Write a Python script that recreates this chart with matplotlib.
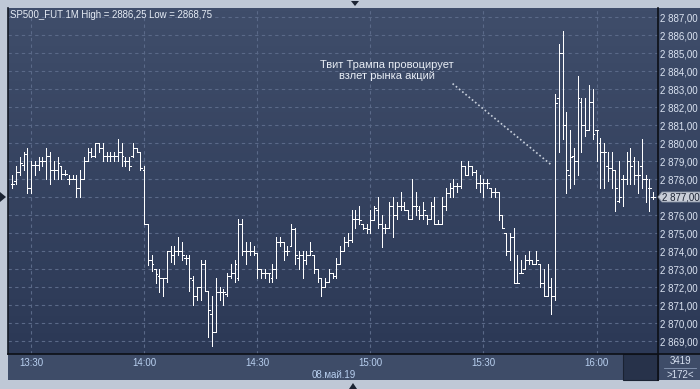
import matplotlib.pyplot as plt
import numpy as np
from matplotlib.patches import Rectangle, Polygon
from matplotlib.colors import LinearSegmentedColormap
from matplotlib.lines import Line2D

plt.rcParams['font.family'] = ['Liberation Sans', 'DejaVu Sans']

# one-minute bars, 13:25 .. 16:15
bar_open = [
    2877.7, 2877.9, 2878.4, 2878.8, 2879.4, 2877.5, 2878.8, 2878.8, 2879.0, 2879.0,
    2879.3, 2878.5, 2878.5, 2878.7, 2878.3, 2878.0, 2878.0, 2878.0, 2877.5, 2878.0,
    2879.0, 2879.5, 2879.3, 2880.0, 2879.7, 2879.3, 2879.3, 2879.3, 2879.3, 2879.5,
    2879.0, 2879.0, 2879.3, 2879.7, 2879.5, 2878.5, 2875.5, 2873.5, 2873.0, 2872.6,
    2872.5, 2872.5, 2874.0, 2873.8, 2874.0, 2874.0, 2873.6, 2873.6, 2872.4, 2871.5,
    2872.0, 2873.3, 2871.8, 2870.5, 2869.5, 2871.7, 2871.7, 2871.6, 2872.6, 2872.8,
    2872.5, 2875.5, 2874.0, 2874.0, 2874.0, 2873.9, 2873.0, 2872.8, 2872.8, 2872.5,
    2873.0, 2874.5, 2874.5, 2874.0, 2874.3, 2875.2, 2873.6, 2873.8, 2873.5, 2873.8,
    2873.8, 2873.0, 2872.5, 2872.0, 2872.3, 2872.8, 2872.6, 2873.3, 2874.0, 2874.5,
    2874.6, 2875.8, 2875.8, 2875.5, 2875.3, 2875.2, 2875.7, 2876.3, 2875.5, 2875.3,
    2875.3, 2876.5, 2876.0, 2876.5, 2876.5, 2876.3, 2875.8, 2876.5, 2876.3, 2876.0,
    2876.0, 2875.8, 2876.5, 2875.5, 2875.5, 2876.5, 2877.2, 2877.5, 2877.6, 2877.6,
    2878.7, 2878.2, 2878.7, 2878.4, 2877.8, 2877.8, 2877.8, 2877.5, 2877.3, 2877.3,
    2876.0, 2875.0, 2874.0, 2874.8, 2872.2, 2872.8, 2873.0, 2873.5, 2873.5, 2873.3,
    2873.3, 2872.2, 2871.5, 2872.0, 2871.5, 2882.5, 2885.0, 2881.0, 2878.2, 2879.3,
    2879.0, 2882.3, 2881.0, 2880.7, 2882.3, 2880.7, 2880.0, 2879.5, 2878.7, 2878.6,
    2878.5, 2876.8, 2878.0, 2878.0, 2879.0, 2879.0, 2878.2, 2878.7, 2878.0, 2877.5,
    2877.0,
]
bar_high = [
    2878.2, 2878.7, 2879.2, 2879.5, 2879.7, 2879.0, 2879.0, 2879.2, 2879.2, 2879.7,
    2879.5, 2879.0, 2879.2, 2878.7, 2878.5, 2878.2, 2878.2, 2878.2, 2878.5, 2879.2,
    2879.7, 2879.7, 2880.0, 2880.0, 2880.0, 2879.5, 2879.5, 2879.5, 2880.2, 2880.0,
    2879.2, 2879.2, 2880.0, 2879.7, 2879.5, 2878.7, 2875.5, 2873.8, 2873.0, 2873.0,
    2872.5, 2874.0, 2874.3, 2874.3, 2874.8, 2874.5, 2873.8, 2873.8, 2872.6, 2872.0,
    2873.5, 2873.5, 2871.8, 2871.5, 2872.5, 2872.0, 2871.9, 2872.8, 2873.3, 2873.5,
    2875.8, 2875.8, 2874.5, 2874.5, 2874.3, 2873.9, 2873.0, 2873.0, 2872.8, 2873.3,
    2874.8, 2874.8, 2874.5, 2874.3, 2875.5, 2875.3, 2874.0, 2874.0, 2874.0, 2874.5,
    2873.8, 2873.0, 2872.5, 2872.5, 2873.0, 2872.8, 2873.6, 2874.3, 2874.8, 2875.0,
    2876.3, 2876.3, 2876.5, 2875.5, 2875.5, 2876.3, 2876.5, 2877.0, 2876.0, 2875.5,
    2876.7, 2877.0, 2876.7, 2877.3, 2876.7, 2876.3, 2878.0, 2877.3, 2876.5, 2876.7,
    2876.0, 2876.7, 2877.0, 2875.7, 2877.0, 2877.5, 2877.8, 2878.0, 2877.8, 2879.0,
    2878.7, 2879.0, 2878.7, 2878.5, 2878.2, 2878.0, 2878.0, 2877.5, 2877.5, 2877.3,
    2876.0, 2875.0, 2875.0, 2875.3, 2873.8, 2873.5, 2873.8, 2874.0, 2873.5, 2874.0,
    2873.3, 2873.0, 2873.3, 2872.5, 2882.7, 2885.5, 2886.25, 2881.7, 2880.7, 2879.7,
    2883.7, 2882.5, 2882.5, 2883.2, 2883.0, 2880.7, 2880.3, 2880.0, 2879.5, 2879.5,
    2878.5, 2879.0, 2878.2, 2879.5, 2879.7, 2879.2, 2879.0, 2880.2, 2878.2, 2878.0,
    2877.3,
]
bar_low = [
    2877.5, 2877.7, 2878.2, 2878.5, 2877.2, 2877.2, 2878.2, 2878.5, 2878.7, 2878.0,
    2877.7, 2878.0, 2878.0, 2878.0, 2878.2, 2877.7, 2878.0, 2877.0, 2877.0, 2878.0,
    2879.0, 2879.2, 2879.2, 2879.5, 2879.0, 2879.0, 2879.0, 2879.0, 2879.0, 2878.7,
    2878.7, 2878.5, 2879.2, 2879.5, 2878.5, 2875.5, 2873.2, 2872.9, 2872.2, 2871.7,
    2871.5, 2872.3, 2873.4, 2873.3, 2873.8, 2873.5, 2873.3, 2871.8, 2871.0, 2871.3,
    2871.3, 2871.8, 2869.2, 2868.75, 2869.5, 2871.3, 2871.0, 2871.5, 2872.5, 2872.3,
    2872.4, 2873.8, 2873.3, 2873.8, 2873.8, 2872.5, 2872.5, 2872.5, 2872.3, 2872.3,
    2872.5, 2874.3, 2873.5, 2873.8, 2874.3, 2873.3, 2873.0, 2872.5, 2873.3, 2873.8,
    2872.8, 2872.3, 2871.5, 2872.0, 2872.3, 2872.5, 2872.5, 2873.3, 2874.0, 2874.3,
    2874.5, 2875.3, 2875.5, 2875.2, 2875.0, 2875.0, 2875.7, 2875.3, 2874.2, 2875.0,
    2875.3, 2874.8, 2875.8, 2876.3, 2876.3, 2875.8, 2875.8, 2876.0, 2875.8, 2875.8,
    2875.5, 2875.8, 2875.5, 2875.5, 2875.5, 2876.3, 2877.0, 2877.0, 2877.3, 2877.5,
    2878.2, 2878.2, 2878.2, 2877.5, 2877.3, 2877.0, 2877.5, 2877.0, 2877.0, 2875.7,
    2875.3, 2873.8, 2873.5, 2872.2, 2872.2, 2872.8, 2873.0, 2873.3, 2873.3, 2873.3,
    2872.0, 2871.5, 2871.5, 2870.5, 2871.3, 2879.5, 2880.2, 2877.2, 2877.5, 2877.7,
    2878.2, 2879.5, 2880.4, 2880.7, 2880.2, 2879.0, 2877.5, 2877.5, 2877.9, 2877.5,
    2876.2, 2876.7, 2876.5, 2877.7, 2877.7, 2877.7, 2877.2, 2877.5, 2876.7, 2876.2,
    2876.9,
]
bar_close = [
    2877.7, 2878.4, 2878.9, 2879.4, 2877.5, 2878.8, 2878.8, 2879.0, 2879.0, 2879.3,
    2878.5, 2878.5, 2878.9, 2878.3, 2878.3, 2878.0, 2878.0, 2877.5, 2878.0, 2879.0,
    2879.5, 2879.3, 2880.0, 2879.7, 2879.3, 2879.3, 2879.3, 2879.3, 2879.5, 2879.3,
    2879.0, 2878.7, 2879.7, 2879.5, 2878.6, 2875.5, 2873.5, 2873.3, 2872.7, 2872.5,
    2872.5, 2874.0, 2873.8, 2874.0, 2874.0, 2873.8, 2873.6, 2872.5, 2871.5, 2872.0,
    2873.3, 2871.8, 2870.7, 2869.5, 2871.7, 2871.7, 2871.7, 2872.6, 2872.8, 2873.3,
    2875.5, 2874.0, 2874.0, 2874.0, 2873.9, 2873.0, 2872.8, 2872.8, 2872.8, 2873.0,
    2874.5, 2874.5, 2874.0, 2874.0, 2875.2, 2873.8, 2873.8, 2873.5, 2873.8, 2874.0,
    2873.0, 2872.5, 2872.0, 2872.3, 2872.8, 2872.6, 2873.3, 2874.0, 2874.5, 2874.6,
    2875.8, 2875.8, 2875.7, 2875.3, 2875.2, 2875.7, 2876.4, 2875.5, 2875.3, 2875.3,
    2876.5, 2876.0, 2876.5, 2876.5, 2876.3, 2875.8, 2876.5, 2876.5, 2876.0, 2876.3,
    2875.8, 2876.5, 2875.5, 2875.5, 2876.5, 2877.2, 2877.5, 2877.6, 2877.6, 2878.7,
    2878.2, 2878.7, 2878.4, 2877.8, 2877.8, 2877.8, 2877.8, 2877.3, 2877.3, 2876.0,
    2875.3, 2874.0, 2874.8, 2872.2, 2872.2, 2872.8, 2873.5, 2873.5, 2873.3, 2873.5,
    2872.2, 2871.5, 2872.0, 2871.5, 2882.2, 2885.0, 2881.0, 2878.5, 2879.2, 2879.0,
    2882.5, 2881.0, 2880.7, 2882.3, 2880.5, 2880.7, 2879.5, 2879.5, 2878.6, 2878.5,
    2877.5, 2877.0, 2878.0, 2879.0, 2878.7, 2878.2, 2878.2, 2878.0, 2878.0, 2877.5,
    2877.0,
]

time_ticks = [5, 35, 65, 95, 125, 155]
time_labels = ['13:30', '14:00', '14:30', '15:00', '15:30', '16:00']
price_ticks = list(range(2869, 2888))
last_price = 2877.0

W, H = 700, 389
fig = plt.figure(figsize=(7, 3.89), dpi=100)
fig.patch.set_facecolor('#bfc8d6')


def fx(px):
    return px / W


def fy(py):
    return 1 - py / H


def price_str(p):
    p = int(round(p))
    return f"{p // 1000} {p % 1000:03d},00"


# gradient background for plot + price scale
bg = fig.add_axes([fx(8), fy(354), 692 / W, 346 / H])
bg.set_zorder(-1)
cmap = LinearSegmentedColormap.from_list('bg', ['#2c3956', '#3f4d6a'])
bg.imshow(np.linspace(0, 1, 100).reshape(-1, 1)[::-1], aspect='auto', cmap=cmap,
          extent=[0, 1, 0, 1])
bg.axis('off')

# bottom time strip
fig.patches.append(Rectangle((fx(8), fy(380)), 692 / W, 26 / H, transform=fig.transFigure,
                             facecolor='#3e4c68', edgecolor='none', zorder=-2))
fig.patches.append(Rectangle((fx(623), fy(380)), 35 / W, 26 / H, transform=fig.transFigure,
                             facecolor='#27324a', edgecolor='#1a2232', lw=0.8, zorder=-1))

ax = fig.add_axes([fx(8), fy(354), 650 / W, 346 / H])
ax.set_facecolor('none')
n = len(bar_close)
x = np.arange(n)
ax.set_xlim(-1.15, 171.3)
ax.set_ylim(2868.28, 2887.5)

for p in price_ticks:
    ax.axhline(p, color='#5a6988', lw=0.8, ls=(0, (3, 3)), zorder=1)
for t in time_ticks:
    ax.axvline(t, color='#5a6988', lw=0.8, ls=(0, (3, 3)), zorder=1)

# 1 px wide bars
ax.vlines(x, bar_low, bar_high, color='white', lw=0.72, zorder=3, antialiased=False)
ax.hlines(bar_open, x - 0.45, x, color='white', lw=0.72, zorder=3, antialiased=False)
ax.hlines(bar_close, x, x + 0.45, color='white', lw=0.72, zorder=3, antialiased=False)

ax.set_xticks(time_ticks)
ax.set_xticklabels(time_labels)
ax.set_yticks(price_ticks)
# the last-price box below carries the 2877 label
ax.set_yticklabels(['' if p == last_price else price_str(p) for p in price_ticks])
ax.yaxis.tick_right()
ax.tick_params(axis='x', length=0, pad=3, labelsize=7, labelcolor='#b9d0f0')
ax.tick_params(axis='y', length=0, pad=1.5, labelsize=7, labelcolor='#dce4f2')
ax.spines['top'].set_visible(False)
ax.spines['left'].set_color('#141a26')
ax.spines['right'].set_color('#0c0f16')
ax.spines['bottom'].set_color('#0c0f16')
for s in ['left', 'right', 'bottom']:
    ax.spines[s].set_linewidth(1.2)

# annotation
ax.text(99.3, 2884.05, 'Твит Трампа провоцирует\nвзлет рынка акций', ha='center',
        va='center', color='#e8edf5', fontsize=8, linespacing=1.15, zorder=4)
ax.plot([116.8, 142.9], [2883.3, 2878.8], color='#c8d0dc', lw=1.2, ls=(0, (1, 1.5)), zorder=4)

# header
fig.text(fx(10), fy(15), 'SP500_FUT 1M High = 2886,25 Low = 2868,75', ha='left',
         va='center', color='#e6ecf5', fontsize=6.9)
fig.text(fx(334), fy(375), '08.май.19', ha='center', va='center', color='#b9d0f0', fontsize=7)
fig.text(fx(680), fy(361), '3419', ha='center', va='center', color='#d6e0f0', fontsize=7)
fig.text(fx(680), fy(375), '>172<', ha='center', va='center', color='#d6e0f0', fontsize=7)
fig.lines.append(Line2D([fx(664), fx(696)], [fy(368), fy(368)], transform=fig.transFigure,
                        color='#8898b4', lw=0.6))
fig.lines.append(Line2D([fx(658), fx(658)], [fy(354), fy(380)], transform=fig.transFigure,
                        color='#0c0f16', lw=1.2))
fig.lines.append(Line2D([fx(658), fx(700)], [fy(354), fy(354)], transform=fig.transFigure,
                        color='#0c0f16', lw=1.2))

# current price marker
py = 17 + (2887 - last_price) * 18
fig.patches.append(Polygon([(fx(658), fy(py)), (fx(662), fy(py - 5)), (fx(700), fy(py - 5)),
                            (fx(700), fy(py + 5)), (fx(662), fy(py + 5))],
                           transform=fig.transFigure, facecolor='#c9ced8',
                           edgecolor='#8c95a6', lw=0.6, zorder=5))
fig.text(fx(662), fy(py), price_str(last_price), ha='left', va='center', color='#1a2233',
         fontsize=7, zorder=6)

# little window triangles
for pts in [[(351, 1), (359, 1), (355, 6)], [(0, 192), (0, 202), (6, 197)],
            [(349, 389), (357, 389), (353, 383)]]:
    fig.patches.append(Polygon([(fx(a), fy(b)) for a, b in pts], transform=fig.transFigure,
                               facecolor='#1c2433', edgecolor='none', zorder=5))

fig.savefig('out.png', dpi=100, facecolor=fig.get_facecolor())
